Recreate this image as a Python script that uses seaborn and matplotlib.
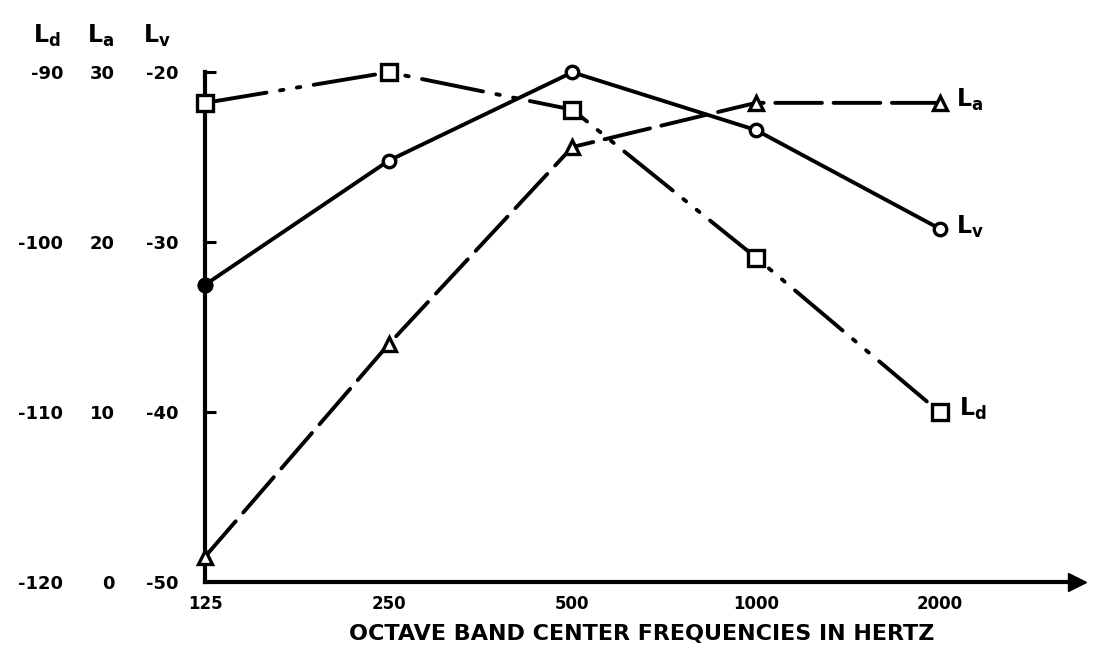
import matplotlib
matplotlib.use("Agg")
import matplotlib.pyplot as plt
import seaborn as sns
import pandas as pd

# Octave band data
freqs = ["125", "250", "500", "1000", "2000"]
ld_vals = [-91.8, -90.0, -92.2, -100.9, -110.0]
la_vals = [1.5, 14.0, 25.6, 28.2, 28.2]
lv_vals = [-32.5, -25.2, -20.0, -23.4, -29.2]

ld_ticks = [-120, -110, -100, -90]
la_ticks = [0, 10, 20, 30]
lv_ticks = [-50, -40, -30, -20]

x_label = "OCTAVE BAND CENTER FREQUENCIES IN HERTZ"


def main():
    sns.set_theme(style="white")
    plt.rcParams["font.family"] = ["DejaVu Sans"]
    plt.rcParams["axes.unicode_minus"] = False
    plt.rcParams["mathtext.fontset"] = "dejavusans"
    plt.rcParams["mathtext.default"] = "bf"
    for key in ["text.color", "axes.labelcolor", "xtick.color", "ytick.color"]:
        plt.rcParams[key] = "black"

    df = pd.DataFrame({"freq": freqs, "Ld": ld_vals, "La": la_vals, "Lv": lv_vals})

    fig = plt.figure(figsize=(10.97, 6.57), dpi=100)
    ax = fig.add_axes([0.187, 0.114, 0.795, 0.776])
    ax_a = ax.twinx()
    ax_d = ax.twinx()

    lw = 2.8
    common = dict(color="black", lw=lw, sort=False, clip_on=False,
                  markeredgecolor="black", markeredgewidth=2.4,
                  markerfacecolor="white", dash_capstyle="round")

    # Lv - circles, solid
    sns.lineplot(data=df, x="freq", y="Lv", ax=ax, marker="o", markersize=9,
                 linestyle="-", **common)
    sns.scatterplot(x=df["freq"][:1], y=df["Lv"][:1], ax=ax, color="black",
                    s=110, edgecolor="black", zorder=5, clip_on=False)

    # La - triangles, long dashes
    sns.lineplot(data=df, x="freq", y="La", ax=ax_a, marker="^", markersize=10,
                 linestyle=(0, (12, 3)), **common)

    # Ld - squares, dash-dot-dot
    sns.lineplot(data=df, x="freq", y="Ld", ax=ax_d, marker="s", markersize=12,
                 linestyle=(0, (16, 3.5, 0.9, 3.5, 0.9, 3.5)), **common)

    ax.set_xlim(0, 4.75)
    ax.set_ylim(lv_ticks[0], lv_ticks[-1])
    ax_a.set_ylim(la_ticks[0], la_ticks[-1])
    ax_d.set_ylim(ld_ticks[0], ld_ticks[-1])

    # main axis styling
    for side in ["top", "right"]:
        ax.spines[side].set_visible(False)
    for side in ["left", "bottom"]:
        ax.spines[side].set_linewidth(3)
        ax.spines[side].set_color("black")
    ax.set_xticks(range(len(freqs)))
    ax.set_xticklabels(freqs, fontsize=12, fontweight="bold")
    ax.tick_params(axis="x", length=0, pad=9)
    ax.set_yticks(lv_ticks)
    ax.set_yticklabels([str(v) for v in lv_ticks], fontsize=13, fontweight="bold")
    ax.tick_params(axis="y", direction="in", length=8, width=2.2, pad=19, left=True)
    ax.set_xlabel(x_label, fontsize=16, fontweight="bold", labelpad=8)
    ax.set_ylabel("")
    ax.plot(1, lv_ticks[0], marker=">", ms=13, color="black",
            transform=ax.get_yaxis_transform(), clip_on=False)

    # extra scales as columns of labels to the left
    for twin, ticks, pad in [(ax_a, la_ticks, 65), (ax_d, ld_ticks, 102)]:
        for sp in twin.spines.values():
            sp.set_visible(False)
        twin.yaxis.set_ticks_position("left")
        twin.set_yticks(ticks)
        twin.set_yticklabels([str(v) for v in ticks], fontsize=13, fontweight="bold")
        twin.tick_params(axis="y", length=0, pad=pad, left=True, right=False,
                         labelleft=True, labelright=False)
        twin.set_ylabel("")
        twin.set_xlabel("")

    # column headings
    for xpos, txt in [(0.043, "L$_d$"), (0.092, "L$_a$"), (0.143, "L$_v$")]:
        fig.text(xpos, 0.945, txt, fontsize=17, fontweight="bold",
                 ha="center", va="center")

    # end labels
    ax_a.annotate("L$_a$", xy=(4, la_vals[-1]), xytext=(12, 2), textcoords="offset points",
                  fontsize=17, fontweight="bold", va="center")
    ax.annotate("L$_v$", xy=(4, lv_vals[-1]), xytext=(12, 1), textcoords="offset points",
                fontsize=17, fontweight="bold", va="center")
    ax_d.annotate("L$_d$", xy=(4, ld_vals[-1]), xytext=(14, 2), textcoords="offset points",
                  fontsize=17, fontweight="bold", va="center")

    fig.savefig("out.png", dpi=100)
    plt.close(fig)


if __name__ == "__main__":
    main()
